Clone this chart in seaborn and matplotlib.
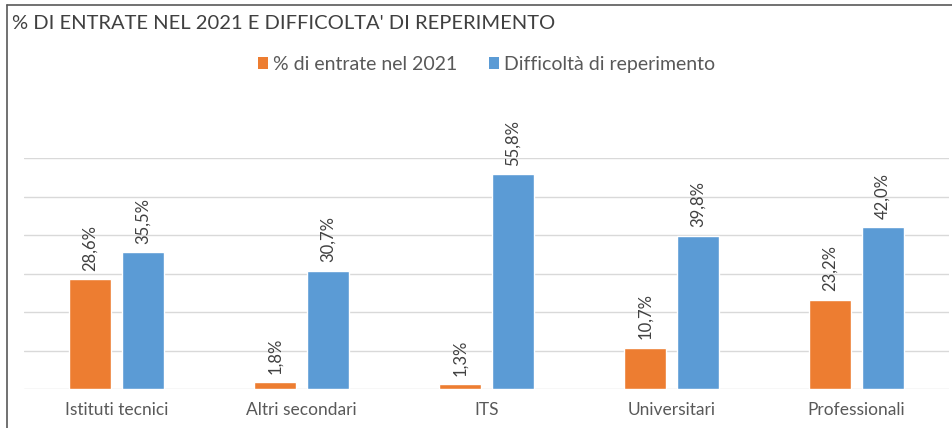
import pandas as pd
import seaborn as sns
import matplotlib.pyplot as plt
from matplotlib.lines import Line2D
from matplotlib.patches import Patch

categories = ["Istituti tecnici", "Altri secondari", "ITS", "Universitari", "Professionali"]
entrate = [28.6, 1.8, 1.3, 10.7, 23.2]
difficolta = [35.5, 30.7, 55.8, 39.8, 42.0]
series = ["% di entrate nel 2021", "Difficoltà di reperimento"]
colors = ["#ED7D31", "#5B9BD5"]

df = pd.DataFrame({
    "categoria": categories * 2,
    "serie": [series[0]] * 5 + [series[1]] * 5,
    "valore": entrate + difficolta,
})

sns.set_style("white")
plt.rcParams["font.family"] = ["Lato", "DejaVu Sans"]

fig = plt.figure(figsize=(9.52, 4.28), dpi=100)
ax = fig.add_axes([0.02495, 0.0911, 0.9716, 0.5397])

sns.barplot(data=df, x="categoria", y="valore", hue="serie", order=categories,
            hue_order=series, palette=colors, width=0.572, gap=0.21,
            saturation=1, legend=False, ax=ax)

ax.set_ylim(0, 60)
ax.set_yticks(range(0, 61, 10))
ax.yaxis.grid(True, color="#D9D9D9", linewidth=1)
ax.set_axisbelow(True)
ax.set_yticklabels([])
ax.tick_params(axis="y", length=0)
ax.tick_params(axis="x", length=0, labelsize=12.5, colors="#595959", pad=9)
ax.set_xlabel("")
ax.set_ylabel("")
for s in ax.spines.values():
    s.set_visible(False)

for cont in ax.containers:
    ax.bar_label(cont, labels=[f"{v:.1f}%".replace(".", ",") for v in cont.datavalues],
                 rotation=90, padding=6, fontsize=12, color="#404040")

fig.text(0.013, 0.945, "% DI ENTRATE NEL 2021 E DIFFICOLTA' DI REPERIMENTO",
         fontsize=14.5, color="#404040", va="center")

handles = [Patch(facecolor=c, edgecolor="none") for c in colors]
fig.legend(handles, series, loc="center", bbox_to_anchor=(0.511, 0.85), ncol=2,
           frameon=False, fontsize=14, labelcolor="#595959", handlelength=0.55,
           handleheight=0.55, handletextpad=0.25, columnspacing=1.6)

# frame of the original chart area
fig.add_artist(Line2D([0.0075, 0.0075], [0.0, 0.988], color="#595959", linewidth=1.2))
fig.add_artist(Line2D([0.0075, 1.0], [0.988, 0.988], color="#595959", linewidth=1.2))

fig.savefig("out.png", dpi=100)
